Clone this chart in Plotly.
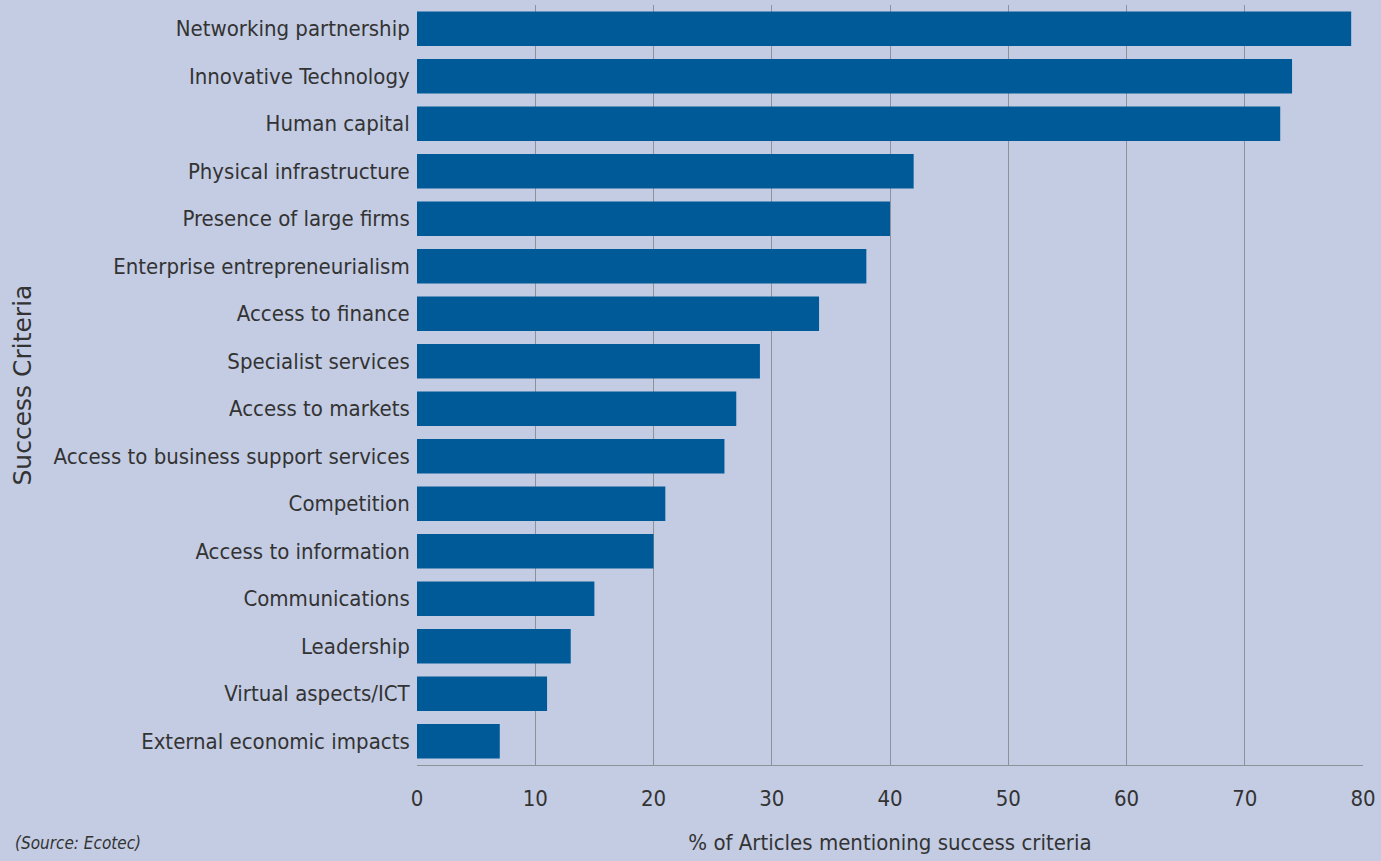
import plotly.graph_objects as go

categories = [
    "Networking partnership", "Innovative Technology", "Human capital",
    "Physical infrastructure", "Presence of large firms", "Enterprise entrepreneurialism",
    "Access to finance", "Specialist services", "Access to markets",
    "Access to business support services", "Competition", "Access to information",
    "Communications", "Leadership", "Virtual aspects/ICT", "External economic impacts",
]
values = [79, 74, 73, 42, 40, 38, 34, 29, 27, 26, 21, 20, 15, 13, 11, 7]
x_ticks = [0, 10, 20, 30, 40, 50, 60, 70, 80]

BG = "#c3cce3"
BAR = "#005a97"
GRID = "#8c919c"
TXT = "#333333"
NARROW = "DejaVu Sans Condensed, Liberation Sans Narrow, sans-serif"

fig = go.Figure(go.Bar(
    x=values, y=categories, orientation="h",
    marker=dict(color=BAR, line=dict(width=0)),
))

fig.update_layout(
    width=1381, height=861,
    paper_bgcolor=BG, plot_bgcolor=BG,
    margin=dict(l=417, r=13, t=5, b=96),
    bargap=0.27,
    showlegend=False,
    xaxis=dict(
        range=[0, 80], tickvals=x_ticks, ticktext=[str(t) for t in x_ticks],
        showgrid=True, gridcolor=GRID, gridwidth=1,
        zeroline=False, showline=True, linecolor=GRID, linewidth=1,
        ticks="", ticklabelstandoff=14,
        tickfont=dict(family=NARROW, size=22, color=TXT),
        title=dict(text="% of Articles mentioning success criteria",
                   font=dict(family=NARROW, size=22, color=TXT), standoff=24),
    ),
    yaxis=dict(
        categoryorder="array", categoryarray=categories[::-1],
        showgrid=False, zeroline=False, showline=False, ticks="",
        ticksuffix=" ",
        tickfont=dict(family=NARROW, size=22, color=TXT),
    ),
    annotations=[
        dict(text="Success Criteria", xref="paper", yref="paper",
             x=-0.418, y=0.5, textangle=-90, showarrow=False,
             xanchor="center", yanchor="middle",
             font=dict(family="DejaVu Sans, sans-serif", size=25, color=TXT)),
        dict(text="<i>(Source: Ecotec)</i>", xref="paper", yref="paper",
             x=-0.427, y=-0.103, showarrow=False, xanchor="left", yanchor="middle",
             font=dict(family=NARROW, size=17, color=TXT)),
    ],
)

fig.write_html("out.html", config={"displayModeBar": False},
               post_script="document.body.style.margin='0';document.body.style.background='%s';" % BG)
